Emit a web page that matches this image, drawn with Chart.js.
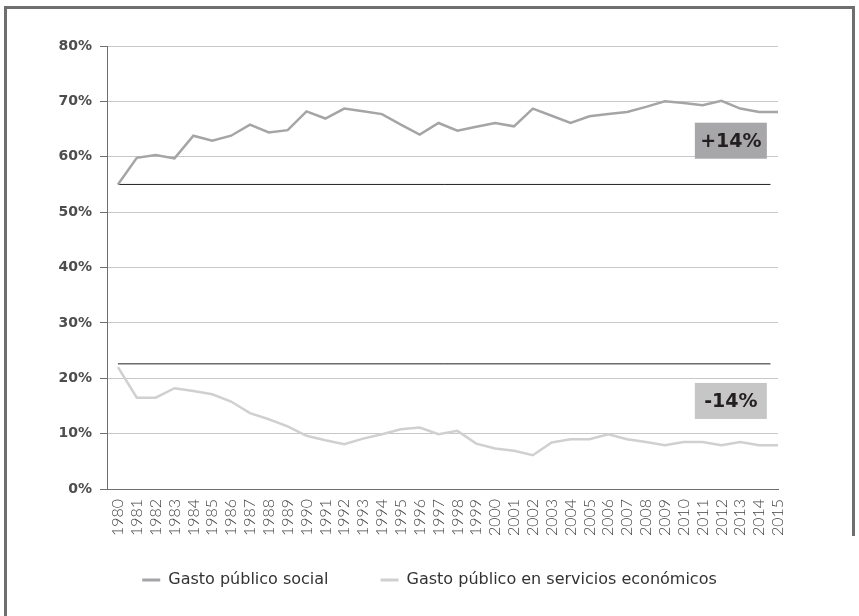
<!DOCTYPE html>
<html lang="es">
<head>
  <meta charset="UTF-8" />
  <title>Gasto público social y en servicios económicos</title>
  <script src="https://cdn.jsdelivr.net/npm/chart.js"></script>
  <style>
    html, body { margin: 0; padding: 0; background: #fff; }
    #wrap { width: 859px; height: 616px; }
  </style>
</head>
<body>
  <div id="wrap"><canvas id="chart" width="859" height="616"></canvas></div>

  <script>
    // data (% of total spending)
    const years = [1980, 1981, 1982, 1983, 1984, 1985, 1986, 1987, 1988, 1989,
                   1990, 1991, 1992, 1993, 1994, 1995, 1996, 1997, 1998, 1999,
                   2000, 2001, 2002, 2003, 2004, 2005, 2006, 2007, 2008, 2009,
                   2010, 2011, 2012, 2013, 2014, 2015];
    const social = [55.0, 59.8, 60.3, 59.7, 63.8, 62.9, 63.8, 65.8, 64.4, 64.8,
                    68.2, 66.9, 68.7, 68.2, 67.7, 65.8, 64.0, 66.1, 64.7, 65.4,
                    66.1, 65.5, 68.7, 67.4, 66.1, 67.3, 67.7, 68.1, 69.0, 70.0,
                    69.7, 69.3, 70.1, 68.7, 68.1, 68.1];
    const economic = [22.0, 16.5, 16.5, 18.2, 17.7, 17.1, 15.8, 13.7, 12.6, 11.3,
                      9.6, 8.8, 8.1, 9.1, 9.9, 10.8, 11.1, 9.9, 10.5, 8.2,
                      7.3, 6.9, 6.1, 8.4, 9.0, 9.0, 9.9, 9.0, 8.5, 7.9,
                      8.5, 8.5, 7.9, 8.5, 7.9, 7.9];
    const seriesNames = ['Gasto público social', 'Gasto público en servicios económicos'];

    // 1980 baselines and the span they are drawn over
    const refLevels = [55, 22.6];
    const refYears = [1980, 2014.6];

    // change labels, with the value/year they sit at
    const changeLabels = ['+14%', '-14%'];
    const changeAt = [62.9, 15.9];
    const changeYear = 2012.5;

    const yMin = 0, yMax = 80, yStep = 10;

    const toPts = vals => vals.map((v, i) => ({ x: years[i], y: v }));

    const decor = {
      id: 'decor',
      afterLayout(chart) {
        // pull the legend up into the space under the year labels
        const lg = chart.legend;
        lg.top -= 17;
        lg.bottom -= 17;
      },
      beforeDraw(chart) {
        const c = chart.ctx;
        c.save();
        c.fillStyle = '#fff';
        c.fillRect(0, 0, chart.width, chart.height);
        c.fillStyle = '#6f6f6f';
        c.fillRect(4, 6, 3, chart.height - 6);
        c.fillRect(4, 6, chart.width - 8, 3);
        c.fillRect(chart.width - 7, 6, 3, 530);
        c.restore();
      },
      afterDatasetsDraw(chart) {
        const c = chart.ctx, sx = chart.scales.x, sy = chart.scales.y;
        const fills = ['#a7a7a9', '#c6c6c6'];
        c.save();
        changeLabels.forEach((t, i) => {
          const cx = sx.getPixelForValue(changeYear);
          const cy = sy.getPixelForValue(changeAt[i]);
          c.fillStyle = fills[i];
          c.fillRect(cx - 36, cy - 18, 72, 36);
          c.fillStyle = '#231f20';
          c.font = 'bold 19px "DejaVu Sans"';
          c.textAlign = 'center';
          c.textBaseline = 'middle';
          c.fillText(t, cx, cy + 1);
        });
        c.restore();
      }
    };

    const refLine = lvl => ({
      data: refYears.map(x => ({ x: x, y: lvl })),
      borderColor: '#231f20',
      borderWidth: 1,
      pointRadius: 0
    });

    new Chart(document.getElementById('chart'), {
      type: 'line',
      data: {
        datasets: [
          { label: seriesNames[0], data: toPts(social), borderColor: '#a5a5a8', backgroundColor: '#a5a5a8',
            borderWidth: 2.5, pointRadius: 0, tension: 0 },
          { label: seriesNames[1], data: toPts(economic), borderColor: '#d0d0d0', backgroundColor: '#d0d0d0',
            borderWidth: 2.5, pointRadius: 0, tension: 0 },
          refLine(refLevels[0]),
          refLine(refLevels[1])
        ]
      },
      options: {
        responsive: false,
        animation: false,
        layout: { padding: { top: 46, bottom: 1, left: 0, right: 0 } },
        plugins: {
          tooltip: { enabled: false },
          legend: {
            position: 'bottom',
            labels: {
              boxWidth: 18,
              boxHeight: 3,
              padding: 52,
              color: '#333',
              font: { family: 'DejaVu Sans', size: 16 },
              generateLabels(chart) {
                return Chart.defaults.plugins.legend.labels.generateLabels(chart)
                  .slice(0, 2)
                  .map(l => Object.assign(l, { lineWidth: 0, fillStyle: l.strokeStyle }));
              }
            }
          }
        },
        scales: {
          x: {
            type: 'linear',
            min: 1979.42,
            max: 2015,
            ticks: {
              stepSize: 1,
              autoSkip: false,
              includeBounds: false,
              minRotation: 90,
              maxRotation: 90,
              padding: 10,
              color: '#444',
              font: { family: 'Lato', weight: 300, size: 16 },
              callback: v => String(v)
            },
            grid: { display: false, drawTicks: false },
            border: { color: '#6f6f6f', width: 1 },
            afterFit: s => { s.height = 48; }
          },
          y: {
            min: yMin,
            max: yMax,
            ticks: {
              stepSize: yStep,
              padding: 8,
              color: '#4d4d4d',
              font: { family: 'DejaVu Sans', weight: 'bold', size: 14 },
              callback: v => v + '%'
            },
            grid: { color: '#c8c8c8', tickColor: '#6f6f6f', tickLength: 7, lineWidth: 1 },
            border: { color: '#6f6f6f', width: 1 },
            afterFit: s => { s.width = 107; }
          },
          yRight: {
            position: 'right',
            grid: { display: false, drawTicks: false },
            ticks: { display: false },
            border: { display: false },
            afterFit: s => { s.width = 81; }
          }
        }
      },
      plugins: [decor]
    });
  </script>
</body>
</html>
